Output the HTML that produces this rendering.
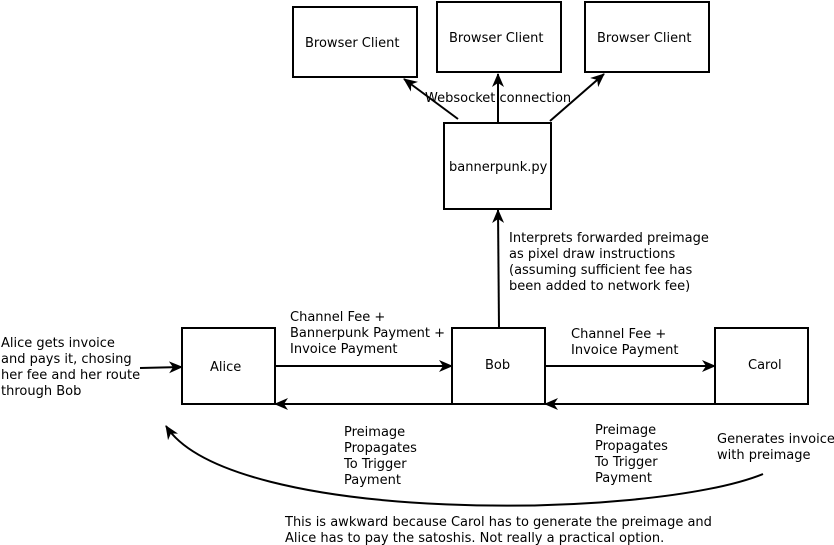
<!DOCTYPE html>
<html><head><meta charset="utf-8"><style>
html,body{margin:0;padding:0;background:#fff;}
svg{display:block;}
text{font-family:"DejaVu Sans","Liberation Sans",sans-serif;font-size:13px;fill:#000;}
</style></head><body>
<svg width="834" height="545" viewBox="0 0 834 545" xmlns="http://www.w3.org/2000/svg">
<defs>
<marker id="a" markerWidth="14" markerHeight="12" refX="13" refY="6" orient="auto" markerUnits="userSpaceOnUse">
<path d="M0,0 L14,6 L0,12 L4,6 Z" fill="#000"/>
</marker>
</defs>
<g fill="#fff" stroke="#000" stroke-width="2">
<rect x="293" y="7" width="124" height="70"/>
<rect x="437" y="2" width="124" height="70"/>
<rect x="585" y="2" width="124" height="70"/>
<rect x="444" y="123" width="107" height="86"/>
<rect x="182" y="328" width="93" height="76"/>
<rect x="452" y="328" width="93" height="76"/>
<rect x="715" y="328" width="93" height="76"/>
</g>
<text x="305" y="47">Browser Client</text>
<text x="449" y="42">Browser Client</text>
<text x="597" y="42">Browser Client</text>
<text x="449" y="171">bannerpunk.py</text>
<text x="210" y="371">Alice</text>
<text x="485" y="369">Bob</text>
<text x="748" y="369">Carol</text>
<g stroke="#000" stroke-width="2" fill="none" marker-end="url(#a)">
<line x1="458" y1="119" x2="404" y2="79"/>
<line x1="498" y1="123" x2="498" y2="74"/>
<line x1="550" y1="121" x2="604" y2="74"/>
<line x1="499" y1="328" x2="498" y2="210"/>
<line x1="140" y1="368" x2="182" y2="367"/>
<line x1="275" y1="366" x2="452" y2="366"/>
<line x1="545" y1="366" x2="715" y2="366"/>
<line x1="715" y1="404" x2="545" y2="404"/>
<line x1="452" y1="404" x2="275" y2="404"/>
<path d="M763,474 C650,520 230,525 166,426"/>
</g>
<text x="425" y="102">Websocket connection</text>
<text x="509" y="242">Interprets forwarded preimage</text>
<text x="509" y="258">as pixel draw instructions</text>
<text x="509" y="274">(assuming sufficient fee has</text>
<text x="509" y="290">been added to network fee)</text>
<text x="290" y="321">Channel Fee +</text>
<text x="290" y="337">Bannerpunk Payment +</text>
<text x="290" y="353">Invoice Payment</text>
<text x="571" y="338">Channel Fee +</text>
<text x="571" y="354">Invoice Payment</text>
<text x="1" y="347">Alice gets invoice</text>
<text x="1" y="363">and pays it, chosing</text>
<text x="1" y="379">her fee and her route</text>
<text x="1" y="395">through Bob</text>
<text x="344" y="436">Preimage</text>
<text x="344" y="452">Propagates</text>
<text x="344" y="468">To Trigger</text>
<text x="344" y="484">Payment</text>
<text x="595" y="434">Preimage</text>
<text x="595" y="450">Propagates</text>
<text x="595" y="466">To Trigger</text>
<text x="595" y="482">Payment</text>
<text x="717" y="443">Generates invoice</text>
<text x="717" y="459">with preimage</text>
<text x="285" y="526">This is awkward because Carol has to generate the preimage and</text>
<text x="285" y="542">Alice has to pay the satoshis. Not really a practical option.</text>
</svg>
</body></html>
